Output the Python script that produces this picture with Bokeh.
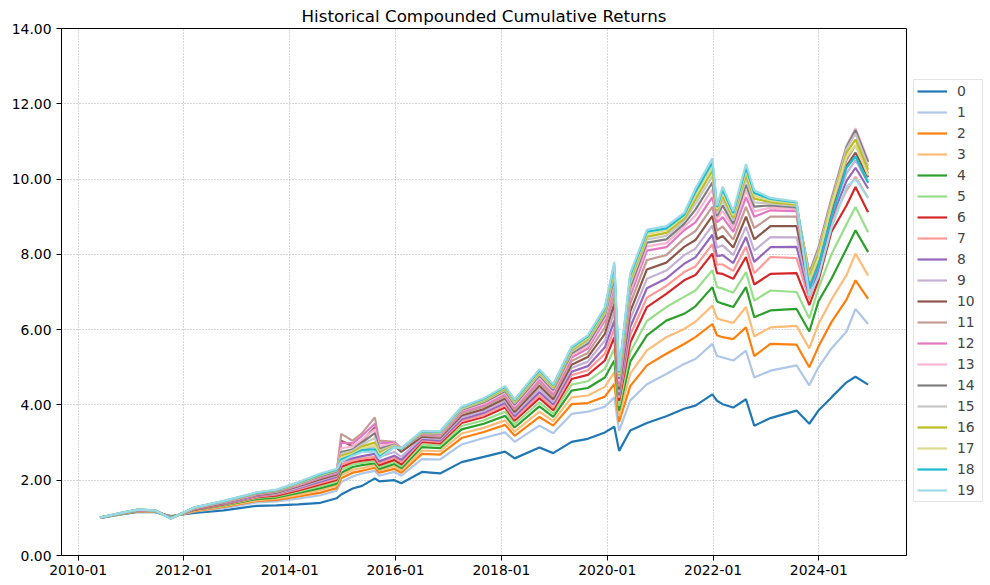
import pandas as pd
from bokeh.plotting import figure
from bokeh.models import (ColumnDataSource, Legend, LegendItem, FixedTicker,
                          NumeralTickFormatter, DatetimeTickFormatter, Range1d)
from bokeh.embed import file_html
from bokeh.resources import INLINE

dates = ["2010-06-01", "2010-11-05", "2011-02-18", "2011-06-15", "2011-10-03",
         "2012-03-15", "2012-10-01", "2013-05-20", "2013-10-01", "2014-03-01",
         "2014-08-01", "2014-11-20", "2014-12-22", "2015-03-11", "2015-05-15",
         "2015-08-11", "2015-09-10", "2015-12-23", "2016-02-10", "2016-07-01",
         "2016-11-03", "2017-04-01", "2017-09-01", "2018-01-26", "2018-04-02",
         "2018-09-20", "2018-12-24", "2019-04-30", "2019-08-20", "2019-12-16",
         "2020-02-19", "2020-03-23", "2020-06-08", "2020-10-01", "2021-02-12",
         "2021-06-15", "2021-09-01", "2021-12-27", "2022-01-28", "2022-03-08",
         "2022-05-20", "2022-08-16", "2022-10-12", "2023-02-01", "2023-07-31",
         "2023-10-27", "2023-12-29", "2024-03-28", "2024-07-10", "2024-09-10",
         "2024-12-06"]

s0 = [1.00, 1.10, 1.16, 1.15, 1.05, 1.13, 1.20, 1.32, 1.33, 1.36, 1.40, 1.52, 1.62, 1.78, 1.85, 2.05, 1.97, 2.00, 1.92, 2.22, 2.18, 2.48, 2.62, 2.76, 2.58, 2.87, 2.72, 3.02, 3.10, 3.27, 3.42, 2.78, 3.32, 3.52, 3.70, 3.90, 3.98, 4.28, 4.11, 4.02, 3.93, 4.15, 3.45, 3.65, 3.85, 3.50, 3.85, 4.20, 4.60, 4.75, 4.54]
s1 = [1.00, 1.11, 1.175, 1.16, 1.03, 1.17, 1.26, 1.41, 1.44, 1.51, 1.60, 1.72, 1.95, 2.10, 2.18, 2.25, 2.12, 2.22, 2.12, 2.56, 2.55, 2.95, 3.12, 3.27, 3.02, 3.45, 3.25, 3.76, 3.82, 3.95, 4.20, 3.31, 4.12, 4.55, 4.82, 5.09, 5.22, 5.62, 5.30, 5.26, 5.18, 5.44, 4.73, 4.91, 5.05, 4.52, 5.00, 5.50, 5.95, 6.55, 6.15]
s2 = [1.00, 1.11, 1.18, 1.17, 1.03, 1.18, 1.29, 1.45, 1.48, 1.57, 1.67, 1.79, 2.05, 2.20, 2.25, 2.33, 2.20, 2.30, 2.20, 2.70, 2.68, 3.12, 3.28, 3.47, 3.18, 3.68, 3.45, 4.02, 4.05, 4.22, 4.56, 3.55, 4.50, 5.05, 5.36, 5.62, 5.80, 6.15, 5.85, 5.80, 5.75, 6.06, 5.30, 5.62, 5.60, 5.00, 5.55, 6.20, 6.80, 7.31, 6.82]
s3 = [1.00, 1.12, 1.185, 1.17, 1.02, 1.19, 1.31, 1.47, 1.51, 1.61, 1.74, 1.86, 2.13, 2.28, 2.32, 2.40, 2.26, 2.37, 2.26, 2.79, 2.77, 3.24, 3.39, 3.59, 3.29, 3.82, 3.57, 4.20, 4.25, 4.48, 4.87, 3.70, 4.83, 5.45, 5.80, 6.02, 6.21, 6.64, 6.30, 6.25, 6.18, 6.60, 5.82, 6.06, 6.10, 5.50, 6.15, 6.80, 7.45, 8.02, 7.44]
s4 = [1.00, 1.12, 1.19, 1.18, 1.02, 1.21, 1.33, 1.50, 1.54, 1.66, 1.79, 1.91, 2.20, 2.35, 2.40, 2.45, 2.30, 2.43, 2.32, 2.88, 2.85, 3.35, 3.50, 3.71, 3.40, 3.96, 3.68, 4.38, 4.45, 4.73, 5.18, 3.85, 5.15, 5.85, 6.24, 6.42, 6.62, 7.13, 6.75, 6.69, 6.60, 7.13, 6.33, 6.51, 6.55, 5.95, 6.75, 7.35, 8.15, 8.64, 8.06]
s5 = [1.00, 1.12, 1.195, 1.18, 1.01, 1.22, 1.34, 1.53, 1.57, 1.70, 1.84, 1.96, 2.28, 2.42, 2.46, 2.50, 2.35, 2.49, 2.37, 2.95, 2.92, 3.44, 3.59, 3.82, 3.49, 4.07, 3.77, 4.54, 4.63, 4.96, 5.49, 3.98, 5.40, 6.23, 6.60, 6.87, 7.04, 7.58, 7.13, 7.09, 6.98, 7.53, 6.77, 7.04, 7.00, 6.30, 7.10, 8.00, 8.80, 9.26, 8.59]
s6 = [1.00, 1.13, 1.20, 1.18, 1.01, 1.22, 1.36, 1.55, 1.59, 1.73, 1.89, 2.01, 2.35, 2.48, 2.52, 2.56, 2.40, 2.54, 2.42, 3.02, 2.98, 3.52, 3.68, 3.93, 3.58, 4.18, 3.86, 4.69, 4.80, 5.18, 5.80, 4.11, 5.65, 6.60, 6.95, 7.31, 7.45, 8.02, 7.50, 7.48, 7.35, 7.93, 7.20, 7.48, 7.50, 6.65, 7.30, 8.60, 9.30, 9.79, 9.12]
s7 = [1.00, 1.13, 1.20, 1.18, 1.00, 1.23, 1.37, 1.56, 1.62, 1.76, 1.93, 2.05, 2.42, 2.52, 2.58, 2.62, 2.45, 2.60, 2.48, 3.06, 3.02, 3.57, 3.73, 3.99, 3.64, 4.26, 3.93, 4.79, 4.92, 5.36, 6.02, 4.19, 5.86, 6.85, 7.16, 7.53, 7.68, 8.27, 7.73, 7.73, 7.56, 8.20, 7.50, 7.93, 7.90, 6.80, 7.50, 8.85, 9.70, 10.06, 9.50]
s8 = [1.00, 1.13, 1.205, 1.19, 1.00, 1.24, 1.38, 1.58, 1.64, 1.79, 1.97, 2.09, 2.50, 2.58, 2.64, 2.70, 2.50, 2.65, 2.54, 3.09, 3.05, 3.62, 3.79, 4.05, 3.70, 4.34, 4.01, 4.88, 5.03, 5.53, 6.24, 4.26, 6.07, 7.10, 7.36, 7.75, 7.92, 8.52, 7.95, 7.98, 7.77, 8.46, 7.80, 8.19, 8.20, 6.90, 7.60, 8.95, 9.95, 10.30, 9.75]
s9 = [1.00, 1.13, 1.205, 1.19, 1.00, 1.25, 1.39, 1.60, 1.65, 1.81, 2.00, 2.12, 2.70, 2.70, 2.78, 2.90, 2.62, 2.75, 2.62, 3.13, 3.09, 3.67, 3.84, 4.11, 3.76, 4.43, 4.08, 4.98, 5.15, 5.71, 6.47, 4.34, 6.28, 7.35, 7.57, 7.98, 8.15, 8.77, 8.18, 8.24, 7.98, 8.73, 8.10, 8.46, 8.45, 7.00, 7.70, 9.05, 10.15, 10.50, 9.90]
s10 = [1.01, 1.13, 1.21, 1.19, 0.99, 1.25, 1.40, 1.61, 1.67, 1.84, 2.03, 2.15, 3.05, 2.90, 3.05, 3.40, 2.90, 2.92, 2.75, 3.16, 3.13, 3.72, 3.89, 4.17, 3.81, 4.51, 4.15, 5.07, 5.27, 5.89, 6.69, 4.41, 6.48, 7.60, 7.78, 8.20, 8.38, 9.02, 8.40, 8.49, 8.18, 9.00, 8.40, 8.75, 8.75, 7.10, 7.80, 9.15, 10.35, 10.70, 10.05]
s11 = [1.01, 1.13, 1.21, 1.19, 0.99, 1.26, 1.41, 1.62, 1.68, 1.86, 2.06, 2.18, 3.23, 3.05, 3.25, 3.67, 3.05, 3.02, 2.85, 3.20, 3.16, 3.77, 3.95, 4.23, 3.87, 4.59, 4.23, 5.17, 5.38, 6.06, 6.91, 4.49, 6.69, 7.85, 7.98, 8.42, 8.62, 9.27, 8.63, 8.74, 8.39, 9.26, 8.70, 9.00, 9.00, 7.20, 7.90, 9.25, 10.50, 10.90, 10.15]
s12 = [1.01, 1.13, 1.21, 1.19, 0.99, 1.26, 1.42, 1.63, 1.70, 1.87, 2.08, 2.20, 3.00, 2.98, 3.18, 3.50, 2.98, 3.00, 2.85, 3.23, 3.20, 3.82, 4.00, 4.29, 3.93, 4.67, 4.30, 5.26, 5.50, 6.24, 7.13, 4.56, 6.90, 8.10, 8.19, 8.64, 8.85, 9.52, 8.85, 8.99, 8.60, 9.52, 9.00, 9.17, 9.15, 7.40, 8.10, 9.45, 10.85, 11.30, 10.45]
s13 = [1.01, 1.14, 1.215, 1.19, 0.99, 1.26, 1.42, 1.64, 1.71, 1.89, 2.10, 2.22, 2.85, 2.90, 3.08, 3.35, 2.90, 2.97, 2.85, 3.25, 3.22, 3.85, 4.04, 4.33, 3.97, 4.73, 4.35, 5.32, 5.57, 6.31, 7.26, 4.63, 7.02, 8.21, 8.30, 8.73, 9.03, 9.73, 8.94, 9.15, 8.71, 9.70, 9.14, 9.24, 9.20, 7.50, 8.20, 9.50, 10.90, 11.35, 10.50]
s14 = [1.01, 1.14, 1.215, 1.20, 0.99, 1.27, 1.43, 1.65, 1.71, 1.90, 2.11, 2.23, 2.75, 2.82, 3.00, 3.25, 2.83, 2.95, 2.84, 3.26, 3.24, 3.87, 4.07, 4.37, 4.01, 4.78, 4.40, 5.37, 5.63, 6.38, 7.38, 4.69, 7.13, 8.31, 8.40, 8.81, 9.19, 9.91, 9.02, 9.30, 8.81, 9.85, 9.27, 9.30, 9.25, 7.50, 8.15, 9.45, 10.85, 11.30, 10.45]
s15 = [1.01, 1.14, 1.215, 1.20, 0.98, 1.27, 1.43, 1.66, 1.72, 1.91, 2.13, 2.25, 2.70, 2.78, 2.95, 3.12, 2.78, 2.93, 2.84, 3.27, 3.25, 3.89, 4.10, 4.40, 4.05, 4.82, 4.44, 5.42, 5.69, 6.43, 7.49, 4.74, 7.22, 8.40, 8.49, 8.89, 9.34, 10.08, 9.09, 9.43, 8.90, 10.00, 9.38, 9.35, 9.29, 7.45, 8.10, 9.40, 10.80, 11.20, 10.35]
s16 = [1.01, 1.14, 1.22, 1.20, 0.98, 1.27, 1.44, 1.66, 1.73, 1.92, 2.14, 2.26, 2.65, 2.74, 2.90, 3.00, 2.73, 2.91, 2.84, 3.28, 3.27, 3.91, 4.12, 4.43, 4.08, 4.86, 4.47, 5.46, 5.74, 6.48, 7.59, 4.79, 7.31, 8.47, 8.57, 8.95, 9.46, 10.22, 9.16, 9.54, 8.97, 10.12, 9.48, 9.39, 9.32, 7.40, 8.00, 9.35, 10.70, 11.05, 10.25]
s17 = [1.01, 1.14, 1.22, 1.20, 0.98, 1.27, 1.44, 1.67, 1.74, 1.93, 2.15, 2.27, 2.60, 2.70, 2.85, 2.92, 2.68, 2.90, 2.84, 3.29, 3.28, 3.92, 4.14, 4.46, 4.11, 4.89, 4.50, 5.49, 5.78, 6.53, 7.67, 4.83, 7.38, 8.54, 8.64, 9.01, 9.57, 10.34, 9.21, 9.64, 9.04, 10.22, 9.56, 9.43, 9.35, 7.30, 7.90, 9.30, 10.60, 10.90, 10.10]
s18 = [1.01, 1.14, 1.22, 1.20, 0.98, 1.28, 1.445, 1.67, 1.74, 1.94, 2.16, 2.28, 2.55, 2.67, 2.80, 2.82, 2.62, 2.88, 2.84, 3.30, 3.29, 3.94, 4.16, 4.48, 4.13, 4.92, 4.53, 5.52, 5.82, 6.56, 7.73, 4.87, 7.44, 8.60, 8.69, 9.05, 9.66, 10.45, 9.26, 9.72, 9.10, 10.31, 9.63, 9.47, 9.38, 7.10, 7.70, 9.00, 10.30, 10.60, 9.90]
s19 = [1.01, 1.14, 1.22, 1.20, 0.98, 1.28, 1.45, 1.68, 1.75, 1.95, 2.18, 2.30, 2.50, 2.65, 2.75, 2.76, 2.58, 2.87, 2.85, 3.31, 3.30, 3.95, 4.18, 4.50, 4.15, 4.95, 4.55, 5.55, 5.85, 6.60, 7.80, 4.90, 7.50, 8.65, 8.75, 9.10, 9.75, 10.55, 9.30, 9.80, 9.15, 10.40, 9.70, 9.50, 9.40, 6.90, 7.40, 8.70, 9.80, 10.00, 9.50]

series = [s0, s1, s2, s3, s4, s5, s6, s7, s8, s9, s10, s11, s12, s13, s14,
          s15, s16, s17, s18, s19]
labels = [str(i) for i in range(20)]
colors = ["#1f77b4", "#aec7e8", "#ff7f0e", "#ffbb78", "#2ca02c", "#98df8a",
          "#d62728", "#ff9896", "#9467bd", "#c5b0d5", "#8c564b", "#c49c94",
          "#e377c2", "#f7b6d2", "#7f7f7f", "#c7c7c7", "#bcbd22", "#dbdb8d",
          "#17becf", "#9edae5"]
x_ticks = ["2010-01-01", "2012-01-01", "2014-01-01", "2016-01-01",
           "2018-01-01", "2020-01-01", "2022-01-01", "2024-01-01"]
y_ticks = [0, 2, 4, 6, 8, 10, 12, 14]
title_text = "Historical Compounded Cumulative Returns"

FONT = "DejaVu Sans"

data = {"date": pd.to_datetime(dates)}
for i, s in enumerate(series):
    data["s%d" % i] = s
src = ColumnDataSource(data)

p = figure(frame_width=845, frame_height=527, x_axis_type="datetime",
           output_backend="svg", toolbar_location=None,
           x_range=Range1d(pd.Timestamp("2009-09-08"), pd.Timestamp("2025-08-28")),
           y_range=Range1d(0, 14),
           min_border_left=61, min_border_top=0, min_border_right=0,
           min_border_bottom=0, title=title_text)
p.background_fill_color = "white"
p.border_fill_color = "white"
p.outline_line_color = "black"
p.outline_line_width = 1

p.title.align = "center"
p.title.text_font = FONT
p.title.text_font_size = "16.7px"
p.title.text_font_style = "normal"
p.title.text_color = "black"
p.title.standoff = 6

renderers = []
for i in range(20):
    r = p.line(x="date", y="s%d" % i, source=src, line_color=colors[i],
               line_width=2.2)
    renderers.append(r)

tick_ms = [int(pd.Timestamp(d).value // 10**6) for d in x_ticks]
p.xaxis.ticker = FixedTicker(ticks=tick_ms)
fmt = "%Y-%m"
p.xaxis.formatter = DatetimeTickFormatter(years=fmt, months=fmt, days=fmt,
                                          hours=fmt, minutes=fmt, seconds=fmt,
                                          milliseconds=fmt, microseconds=fmt,
                                          hourmin=fmt, minsec=fmt)
p.yaxis.ticker = FixedTicker(ticks=y_ticks)
p.yaxis.formatter = NumeralTickFormatter(format="0.00")

for ax in (p.xaxis, p.yaxis):
    ax.major_label_text_font = FONT
    ax.major_label_text_font_size = "13.9px"
    ax.major_label_text_color = "black"
    ax.axis_line_color = "black"
    ax.major_tick_line_color = "black"
    ax.major_tick_out = 5
    ax.major_tick_in = 0
    ax.minor_tick_line_color = None
p.xaxis.major_label_standoff = 4
p.yaxis.major_label_standoff = 5

for g in (p.xgrid, p.ygrid):
    g.grid_line_color = "#b0b0b0"
    g.grid_line_dash = "1 2"
    g.grid_line_width = 1

items = [LegendItem(label=labels[i], renderers=[renderers[i]]) for i in range(20)]
legend = Legend(items=items, location=(7, 53), orientation="vertical",
                glyph_width=30, glyph_height=16, label_height=16, spacing=5,
                padding=3, margin=7, label_standoff=10, label_width=22,
                label_text_font=FONT, label_text_font_size="13.9px",
                border_line_color="#cccccc", border_line_width=1,
                background_fill_color="white", background_fill_alpha=0.8)
p.add_layout(legend, "right")

open("out.html", "w").write(file_html(p, INLINE))
